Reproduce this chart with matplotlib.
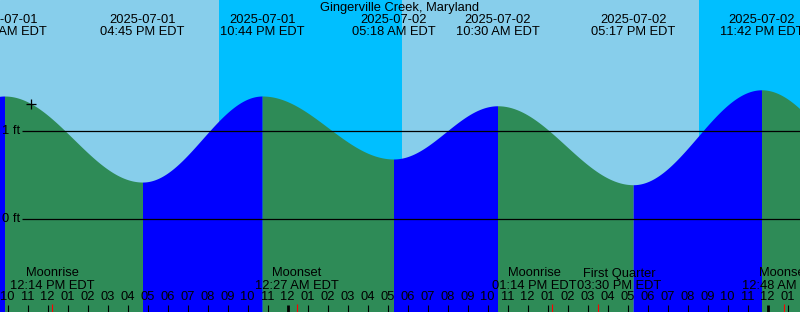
import numpy as np
import matplotlib
matplotlib.use("Agg")
import matplotlib.pyplot as plt
from matplotlib.transforms import blended_transform_factory

# ---------------- data ----------------
station = "Gingerville Creek, Maryland"
# tide extremes, hours since 2025-07-01 00:00 EDT, heights in ft
tide_times = [9.85, 16.75, 22.733, 29.3, 34.5, 41.283, 47.7]
tide_heights = [1.39, 0.42, 1.39, 0.68, 1.28, 0.39, 1.46]
tide_dates = ["2025-07-01", "2025-07-01", "2025-07-01",
              "2025-07-02", "2025-07-02", "2025-07-02", "2025-07-02"]
tide_labels = ["09:51 AM EDT", "04:45 PM EDT", "10:44 PM EDT", "05:18 AM EDT",
               "10:30 AM EDT", "05:17 PM EDT", "11:42 PM EDT"]
# neighbouring extremes just outside the window
prev_low_time, prev_low_height = 3.6, 0.45
next_low_time, next_low_height = 54.0, 0.45

# sunset, sunrise, sunset (hours since 2025-07-01 00:00)
sun_times = [20.575, 29.725, 44.575]

moon_names = ["Moonrise", "Moonset", "Moonrise", "First Quarter", "Moonset"]
moon_times = [12.233, 24.45, 37.233, 39.5, 48.8]
moon_labels = ["12:14 PM EDT", "12:27 AM EDT", "01:14 PM EDT",
               "03:30 PM EDT", "12:48 AM EDT"]

now_time, now_height = 11.175, 1.30
level_lines = [0, 1]
level_labels = ["0 ft", "1 ft"]

# ---------------- layout ----------------
W, H = 800, 312
t_start = 9.625
t_end = t_start + 40.0
y_top, y_bottom = 2.4724, -1.0451
label_nudge_px = {2: -18, 3: 22}

DAY = "#87CEEB"
NIGHT = "#00BFFF"
FALL = "#2E8B57"
RISE = "#0000FF"

plt.rcParams["font.family"] = ["Liberation Sans", "DejaVu Sans"]
FS = 9.3

fig = plt.figure(figsize=(W / 100, H / 100), dpi=100)
ax = fig.add_axes([0, 0, 1, 1])
ax.set_xlim(t_start, t_end)
ax.set_ylim(y_bottom, y_top)
ax.axis("off")
ax.add_patch(plt.Rectangle((0, 0), 1, 1, transform=ax.transAxes,
                           color=DAY, zorder=0))

# night shading
ax.axvspan(sun_times[0], sun_times[1], color=NIGHT, lw=0, zorder=1)
ax.axvspan(sun_times[2], t_end + 1, color=NIGHT, lw=0, zorder=1)

# tide curve (cosine between successive extremes)
ext_t = [prev_low_time] + tide_times + [next_low_time]
ext_h = [prev_low_height] + tide_heights + [next_low_height]
for i in range(len(ext_t) - 1):
    ta, tb = ext_t[i], ext_t[i + 1]
    ha, hb = ext_h[i], ext_h[i + 1]
    tt = np.linspace(ta, tb, 300)
    f = (tt - ta) / (tb - ta)
    hh = ha + (hb - ha) * (1 - np.cos(np.pi * f)) / 2
    col = RISE if hb > ha else FALL
    ax.fill_between(tt, hh, y_bottom - 1, color=col, lw=0, zorder=2)

# level lines
bt_ax = blended_transform_factory(ax.transAxes, ax.transData)
for lv, lab in zip(level_lines, level_labels):
    ax.plot([22 / W, 1], [lv, lv], transform=bt_ax, color="black",
            lw=0.9, zorder=3, solid_capstyle="butt")
    ax.text(2 / W, lv, lab, transform=bt_ax, fontsize=FS, ha="left",
            va="center", zorder=4)

# "now" marker
ax.plot([now_time], [now_height], marker="+", color="black", ms=7,
        mew=0.9, zorder=4)

def py(y):
    return 1 - y / H

bt = blended_transform_factory(ax.transData, ax.transAxes)

# title and tide labels
ax.text(0.5, py(8), station, transform=ax.transAxes, fontsize=FS,
        ha="center", va="center", zorder=5)
for t, d, lab in zip(tide_times, tide_dates, tide_labels):
    ax.text(t, py(20), d, transform=bt, fontsize=FS, ha="center",
            va="center", zorder=5)
    ax.text(t, py(32), lab, transform=bt, fontsize=FS, ha="center",
            va="center", zorder=5)

# hour ticks and labels
hours = np.arange(10, 50)
for h in hours:
    hr12 = h % 12
    hr12 = 12 if hr12 == 0 else hr12
    ax.text(h, py(297.5), f"{hr12:02d}", transform=bt, fontsize=FS,
            ha="center", va="center", zorder=5)
    midnight = (h % 24 == 0)
    ax.plot([h, h], [py(312), py(305)], transform=bt, color="black",
            lw=2.0 if midnight else 0.8, zorder=5, solid_capstyle="butt")

# moon events
for i, (name, t, lab) in enumerate(zip(moon_names, moon_times, moon_labels)):
    ax.plot([t, t], [py(312), py(304)], transform=bt, color="red",
            lw=0.8, zorder=6, solid_capstyle="butt")
    dx = label_nudge_px.get(i, 0) * 0.72
    for txt, yy in ((name, 273.5), (lab, 286)):
        ax.annotate(txt, (t, py(yy)), xycoords=bt, xytext=(dx, 0),
                    textcoords="offset points", fontsize=FS,
                    ha="center", va="center", zorder=5)

fig.savefig("out.png", dpi=100)
